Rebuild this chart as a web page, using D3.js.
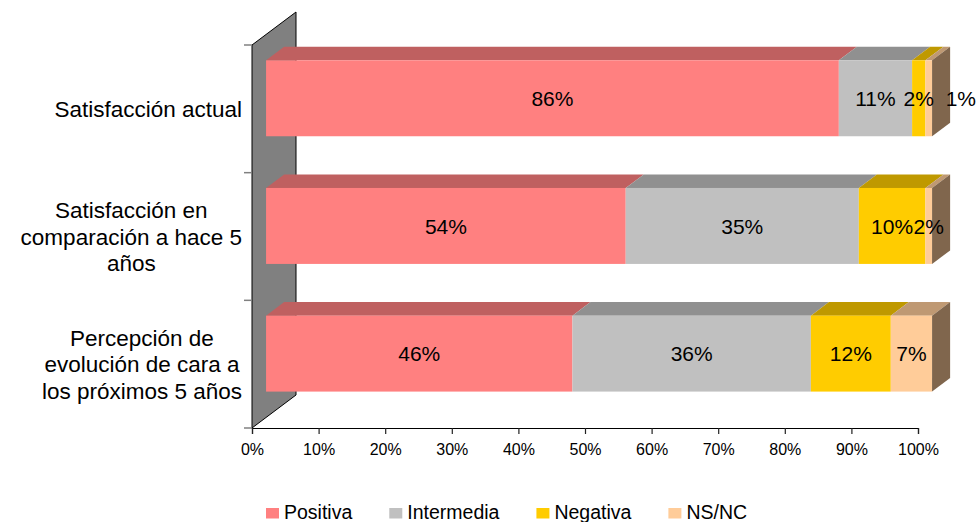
<!DOCTYPE html>
<html>
<head>
<meta charset="utf-8">
<script src="https://cdn.jsdelivr.net/npm/d3@7"></script>
<style>
  html, body { margin: 0; padding: 0; background: #fff; }
  svg { display: block; font-family: "Liberation Sans", Arial, sans-serif; }
</style>
</head>
<body>
<svg id="chart" width="978" height="522"></svg>
<script>
// ---------- data ----------
const categories = [
  ["Satisfacción actual"],
  ["Satisfacción en", "comparación a hace 5", "años"],
  ["Percepción de", "evolución de cara a", "los próximos 5 años"]
];
const seriesNames = ["Positiva", "Intermedia", "Negativa", "NS/NC"];
const seriesColors = ["#FF8080", "#C0C0C0", "#FFCC00", "#FFCC99"];
// shares per category (fraction of 100%), in series order
const positiva   = [0.860, 0.540, 0.460];
const intermedia = [0.110, 0.350, 0.358];
const negativa   = [0.020, 0.100, 0.120];
const nsnc       = [0.010, 0.010, 0.062];
const valueLabels = [
  ["86%", "11%", "2%", "1%"],
  ["54%", "35%", "10%", "2%"],
  ["46%", "36%", "12%", "7%"]
];
const tickValues = [0, 0.1, 0.2, 0.3, 0.4, 0.5, 0.6, 0.7, 0.8, 0.9, 1.0];

// ---------- layout ----------
const svg = d3.select("#chart");
const W = 978, H = 522;
svg.append("rect").attr("width", W).attr("height", H).attr("fill", "#fff");

const plot = { left: 252, right: 918, top: 45, bottom: 428 };
const wallDx = 44, wallDy = 33;          // 3D depth projection
const frontFrac = 0.32, backFrac = 0.73; // bar depth position

const x = d3.scaleLinear().domain([0, 1]).range([plot.left, plot.right]);
const catIdx = categories.map((d, i) => i);
const y = d3.scaleBand().domain(catIdx).range([plot.top, plot.bottom])
  .paddingInner(0.405).paddingOuter(0.2025);

const series = [positiva, intermedia, negativa, nsnc];

function shade(c, k) {
  const r = d3.rgb(c);
  return d3.rgb(r.r * k, r.g * k, r.b * k).formatHex();
}

// back wall
const wall = [
  [plot.left, plot.top],
  [plot.left + wallDx, plot.top - wallDy],
  [plot.left + wallDx, plot.bottom - wallDy],
  [plot.left, plot.bottom]
];
svg.append("polygon")
  .attr("points", wall.map(p => p.join(",")).join(" "))
  .attr("fill", "#808080").attr("stroke", "#000").attr("stroke-width", 1);

// category ticks on the left edge
const catBounds = [plot.top].concat(catIdx.map(i => y(i) + y.bandwidth() + y.step() * 0.405 / 2));
catBounds[catBounds.length - 1] = plot.bottom;
svg.append("g").selectAll("line").data(catBounds).join("line")
  .attr("x1", plot.left - 8).attr("x2", plot.left)
  .attr("y1", d => d).attr("y2", d => d)
  .attr("stroke", "#808080").attr("stroke-width", 1.5);

// x axis
const xAxis = d3.axisBottom(x).tickValues(tickValues)
  .tickFormat(d3.format(".0%")).tickSize(6).tickPadding(9.5);
const ax = svg.append("g").attr("transform", `translate(0,${plot.bottom})`).call(xAxis);
ax.select(".domain").attr("stroke", "#000").attr("stroke-width", 1.2);
ax.selectAll(".tick line").attr("stroke", "#222").attr("stroke-width", 1.2);
ax.selectAll(".tick text").attr("font-size", 16).attr("fill", "#000")
  .attr("font-family", "'Liberation Sans', Arial, sans-serif");

// bars
const fdx = wallDx * frontFrac, fdy = wallDy * frontFrac;
const ddx = wallDx * (backFrac - frontFrac), ddy = wallDy * (backFrac - frontFrac);
const barsG = svg.append("g");
const labelsG = svg.append("g");

catIdx.forEach(ci => {
  const yTop = y(ci) - fdy;
  const yBot = yTop + y.bandwidth();
  let cum = 0;
  const segs = series.map((s, si) => {
    const v0 = cum; cum += s[ci];
    return { si, x0: x(v0) + fdx, x1: x(cum) + fdx };
  });
  segs.forEach(sg => {
    const col = seriesColors[sg.si];
    // top face
    barsG.append("polygon")
      .attr("points", [[sg.x0, yTop], [sg.x1, yTop], [sg.x1 + ddx, yTop - ddy], [sg.x0 + ddx, yTop - ddy]]
        .map(p => p.join(",")).join(" "))
      .attr("fill", shade(col, 0.75));
    // front face
    barsG.append("rect")
      .attr("x", sg.x0).attr("y", yTop)
      .attr("width", Math.max(0, sg.x1 - sg.x0)).attr("height", yBot - yTop)
      .attr("fill", col);
  });
  // side face of last segment
  const last = segs[segs.length - 1];
  barsG.append("polygon")
    .attr("points", [[last.x1, yTop], [last.x1 + ddx, yTop - ddy], [last.x1 + ddx, yBot - ddy], [last.x1, yBot]]
      .map(p => p.join(",")).join(" "))
    .attr("fill", shade(seriesColors[last.si], 0.5));

  // data labels, centered, pushed just past the bar end if they collide
  let prevRight = -Infinity;
  const barEnd = last.x1 + ddx;
  segs.forEach(sg => {
    const t = labelsG.append("text")
      .attr("font-size", 21).attr("fill", "#000")
      .attr("text-anchor", "middle")
      .attr("y", (yTop + yBot) / 2).attr("dy", "0.36em")
      .text(valueLabels[ci][sg.si]);
    const w = t.node().getComputedTextLength();
    let cx = (sg.x0 + sg.x1) / 2;
    if (cx - w / 2 < prevRight - 2) cx = Math.min(barEnd - 4 + w / 2, W - 2 - w / 2);
    t.attr("x", cx);
    prevRight = cx + w / 2;
  });
});

// category labels (block right-aligned to axis, lines centered)
const catG = svg.append("g");
const lineH = 26.5;
catIdx.forEach(ci => {
  const lines = categories[ci];
  const cy = y(ci) + y.bandwidth() / 2;
  const t = catG.append("text").attr("font-size", 22.5).attr("fill", "#000")
    .attr("text-anchor", "middle");
  const spans = lines.map((ln, li) => t.append("tspan")
    .attr("y", cy + (li - (lines.length - 1) / 2) * lineH).attr("dy", "0.36em").text(ln));
  const maxW = d3.max(spans, s => s.node().getComputedTextLength());
  const cx = plot.left - 10 - maxW / 2;
  spans.forEach(s => s.attr("x", cx));
});

// legend
const leg = svg.append("g");
let lx = 266;
const ly = 518.5;
seriesNames.forEach((n, i) => {
  leg.append("rect").attr("x", lx).attr("y", ly - 10.5).attr("width", 13).attr("height", 10.5)
    .attr("fill", seriesColors[i]);
  const t = leg.append("text").attr("x", lx + 18).attr("y", ly)
    .attr("font-size", 19.5).attr("fill", "#000").text(n);
  lx += 18 + t.node().getComputedTextLength() + 37;
});
</script>
</body>
</html>
